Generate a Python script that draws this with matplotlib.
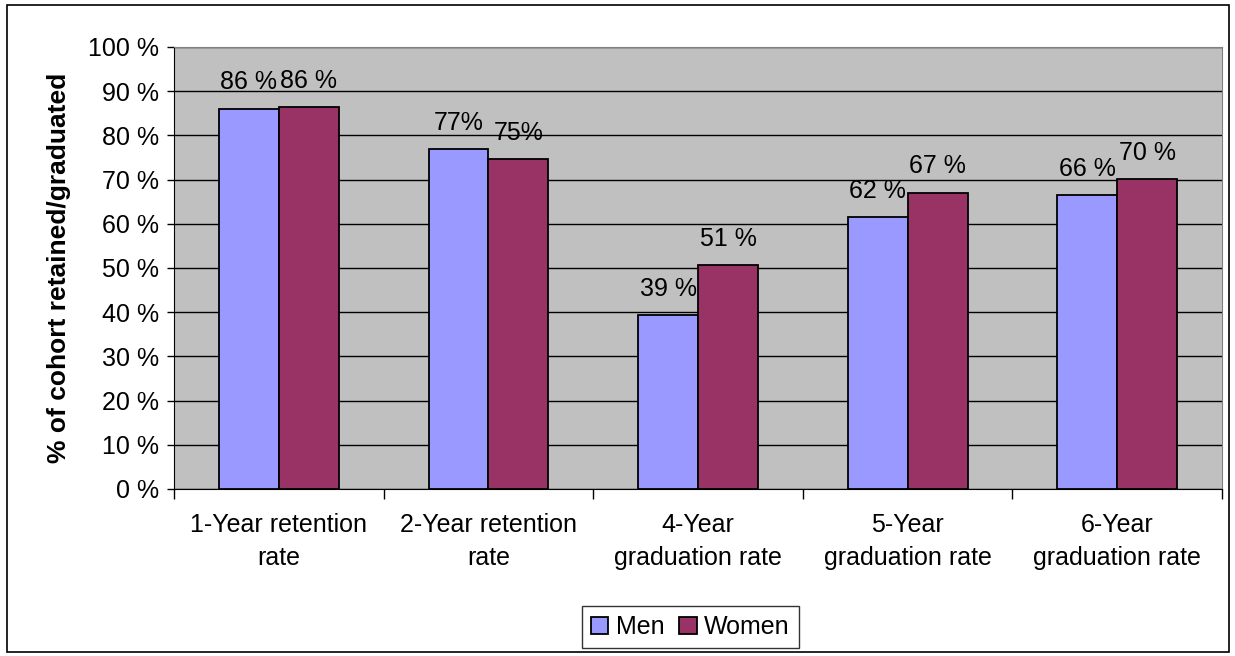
import matplotlib
matplotlib.use("Agg")
import matplotlib.pyplot as plt
import numpy as np
from matplotlib.patches import Rectangle

plt.rcParams['font.family'] = ['Liberation Sans', 'DejaVu Sans']

categories = ["1-Year retention\nrate", "2-Year retention\nrate", "4-Year\ngraduation rate",
              "5-Year\ngraduation rate", "6-Year\ngraduation rate"]
men = [86.0, 76.9, 39.3, 61.5, 66.4]
women = [86.4, 74.6, 50.6, 67.0, 70.1]
men_labels = ["86 %", "77%", "39 %", "62 %", "66 %"]
women_labels = ["86 %", "75%", "51 %", "67 %", "70 %"]
yticks = list(range(0, 101, 10))

fig = plt.figure(figsize=(12.35, 6.56), dpi=100)
ax = fig.add_axes([0.1409, 0.2546, 0.8486, 0.6738])
ax.set_facecolor("#C0C0C0")

x = np.arange(len(categories))
w = 1 / 3.5
b1 = ax.bar(x - w / 2, men, w, color="#9999FF", edgecolor="black", linewidth=1.3, label="Men", zorder=3)
b2 = ax.bar(x + w / 2, women, w, color="#993366", edgecolor="black", linewidth=1.3, label="Women", zorder=3)

for bars, labs in ((b1, men_labels), (b2, women_labels)):
    for r, t in zip(bars, labs):
        ax.annotate(t, (r.get_x() + r.get_width() / 2, r.get_height()), xytext=(0, 14),
                    textcoords="offset points", ha="center", va="baseline", fontsize=18)

ax.set_xlim(-0.5, len(categories) - 0.5)
ax.set_ylim(0, 100)
ax.set_yticks(yticks)
ax.set_yticklabels([f"{v} %" for v in yticks], fontsize=18)
ax.yaxis.grid(True, color="black", linewidth=1)
ax.set_axisbelow(True)
ax.tick_params(axis="y", length=5, width=1, pad=6)

ax.set_xticks(x)
ax.set_xticklabels(categories, fontsize=18, linespacing=1.5)
ax.set_xticks(np.arange(len(categories) + 1) - 0.5, minor=True)
ax.tick_params(axis="x", which="major", length=0, pad=17)
ax.tick_params(axis="x", which="minor", length=7, width=1)

for s in ("top", "right"):
    ax.spines[s].set_color("#808080")
for s in ("left", "bottom"):
    ax.spines[s].set_color("black")

ax.set_ylabel("% of cohort retained/graduated", fontsize=19, fontweight="bold", labelpad=12)

fig.legend(handles=[b1, b2], loc="center", bbox_to_anchor=(0.559, 0.044), ncol=2, fontsize=18,
           frameon=True, fancybox=False, edgecolor="black", handlelength=0.7, handleheight=0.7,
           handletextpad=0.3, columnspacing=0.6, borderpad=0.35)

fig.patches.append(Rectangle((0.006, 0.006), 0.989, 0.987, transform=fig.transFigure,
                             fill=False, edgecolor="black", linewidth=1.2))

fig.savefig("out.png", dpi=100)
